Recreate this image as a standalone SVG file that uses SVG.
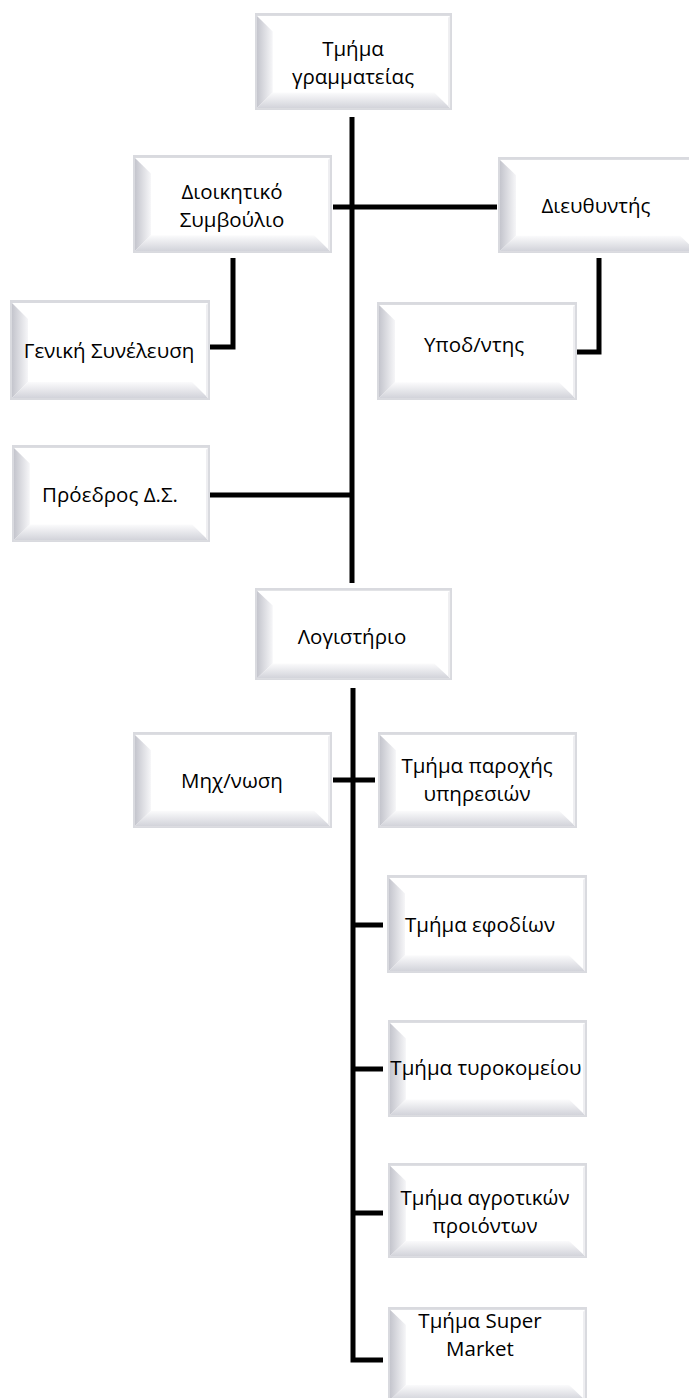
<svg xmlns="http://www.w3.org/2000/svg" xmlns:xlink="http://www.w3.org/1999/xlink" width="689" height="1398" viewBox="0 0 689 1398">
<style>
.t{font-family:"Open Sans","Noto Sans","DejaVu Sans",sans-serif;font-size:20.5px;fill:#000;text-anchor:middle}
.c{fill:none;stroke:#000;stroke-width:5}
</style>
<defs>
<linearGradient id="gL" x1="0" y1="0" x2="1" y2="0"><stop offset="0" stop-color="#c4c5cd"/><stop offset="1" stop-color="#f6f6f8"/></linearGradient>
<linearGradient id="gB" x1="0" y1="0" x2="0" y2="1"><stop offset="0" stop-color="#fbfbfc"/><stop offset="1" stop-color="#d2d3da"/></linearGradient>
<symbol id="bx" viewBox="0 0 200 100" preserveAspectRatio="none">
<rect x="0" y="0" width="200" height="100" fill="#d9dadf"/>
<rect x="2" y="3" width="196" height="95" fill="#fff"/>
<polygon points="2,3 18,19 18,82 2,98" fill="url(#gL)"/>
<polygon points="2,98 18,82 182,82 198,98" fill="url(#gB)"/>
<polygon points="198,3 196,5 196,96 198,98" fill="#eeeef1"/>
</symbol>
</defs>
<g id="connectors">
<path class="c" d="M352,117 V583"/>
<path class="c" d="M333,207 H497"/>
<path class="c" d="M233,258 V347 H210"/>
<path class="c" d="M599,258 V352 H577"/>
<path class="c" d="M210,495 H352"/>
<path class="c" d="M353,688 V1360 H383"/>
<path class="c" d="M333,780 H375"/>
<path class="c" d="M353,925 H383"/>
<path class="c" d="M353,1069 H383"/>
<path class="c" d="M353,1213 H383"/>
</g>
<g id="n1"><use xlink:href="#bx" x="255" y="13" width="197" height="97"/><text class="t" x="353" y="56">Τμήμα</text><text class="t" x="353" y="84">γραμματείας</text></g>
<g id="n2"><use xlink:href="#bx" x="133" y="155" width="199" height="98"/><text class="t" x="232" y="199">Διοικητικό</text><text class="t" x="232" y="227">Συμβούλιο</text></g>
<g id="n3"><use xlink:href="#bx" x="498" y="157" width="200" height="96"/><text class="t" x="596" y="213">Διευθυντής</text></g>
<g id="n4"><use xlink:href="#bx" x="10" y="300" width="200" height="100"/><text class="t" x="109" y="358">Γενική Συνέλευση</text></g>
<g id="n5"><use xlink:href="#bx" x="377" y="302" width="200" height="98"/><text class="t" x="474" y="352">Υποδ/ντης</text></g>
<g id="n6"><use xlink:href="#bx" x="12" y="445" width="198" height="97"/><text class="t" x="110" y="502">Πρόεδρος Δ.Σ.</text></g>
<g id="n7"><use xlink:href="#bx" x="255" y="588" width="197" height="92"/><text class="t" x="352" y="644">Λογιστήριο</text></g>
<g id="n8"><use xlink:href="#bx" x="133" y="732" width="199" height="96"/><text class="t" x="232" y="788">Μηχ/νωση</text></g>
<g id="n9"><use xlink:href="#bx" x="378" y="732" width="199" height="96"/><text class="t" x="477" y="773">Τμήμα παροχής</text><text class="t" x="477" y="801">υπηρεσιών</text></g>
<g id="n10"><use xlink:href="#bx" x="387" y="875" width="200" height="98"/><text class="t" x="480" y="932">Τμήμα εφοδίων</text></g>
<g id="n11"><use xlink:href="#bx" x="388" y="1020" width="199" height="97"/><text class="t" x="486" y="1075">Τμήμα τυροκομείου</text></g>
<g id="n12"><use xlink:href="#bx" x="388" y="1163" width="199" height="95"/><text class="t" x="485" y="1205">Τμήμα αγροτικών</text><text class="t" x="485" y="1233">προιόντων</text></g>
<g id="n13"><use xlink:href="#bx" x="388" y="1307" width="199" height="95"/><text class="t" x="480" y="1328">Τμήμα Super</text><text class="t" x="480" y="1356">Market</text></g>
</svg>
